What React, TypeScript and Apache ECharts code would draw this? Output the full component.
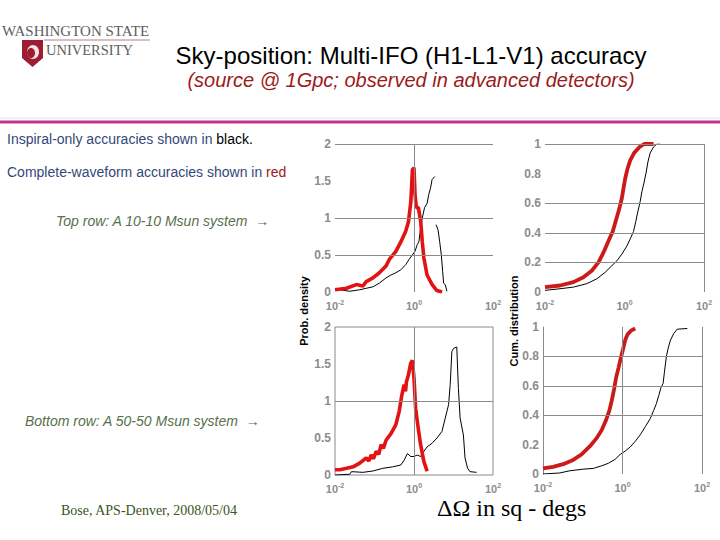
import React, { useEffect, useRef } from "react";
import * as echarts from "echarts";

// ---------- data (x in sq-degs, y values) ----------
// Top row: 10-10 Msun, probability density
const TL_RED_X = [0.01, 0.0195, 0.0347, 0.0505, 0.0617, 0.0912, 0.133, 0.195, 0.237, 0.347, 0.468, 0.617, 0.724, 0.832, 0.912, 1.0, 1.06, 1.15, 1.29, 1.48, 1.62, 1.78, 2.14, 2.88, 3.8, 5.13];
const TL_RED_Y = [0.03, 0.05, 0.1, 0.08, 0.14, 0.19, 0.26, 0.35, 0.44, 0.55, 0.68, 0.82, 0.95, 1.22, 1.65, 1.68, 1.32, 1.14, 1.14, 0.95, 0.68, 0.46, 0.23, 0.1, 0.02, 0.0];
const TL_BLK_X = [0.01, 0.0133, 0.0237, 0.0422, 0.0617, 0.091, 0.133, 0.195, 0.261, 0.348, 0.464, 0.619, 0.75, 0.908, 1.06, 1.21, 1.33, 1.47, 1.62, 1.85, 2.15, 2.37, 2.61, 2.87, 3.35, 3.45, 3.62, 4.06, 4.47, 4.92, 5.31, 5.62, 6.17, 6.81];
const TL_BLK_Y: (number | string)[] = [0.05, 0.03, 0.01, 0.03, 0.05, 0.07, 0.12, 0.19, 0.23, 0.26, 0.3, 0.37, 0.44, 0.5, 0.55, 0.64, 0.68, 0.86, 1.0, 1.14, 1.2, 1.32, 1.4, 1.52, 1.56, "-", 0.91, 0.84, 0.68, 0.5, 0.28, 0.12, 0.1, 0.01];

// Top row: cumulative distribution
const TR_RED_X = [0.01, 0.0239, 0.0518, 0.0924, 0.15, 0.221, 0.296, 0.395, 0.508, 0.617, 0.748, 0.857, 0.944, 1.04, 1.19, 1.39, 1.75, 2.39, 3.13, 5.38];
const TR_RED_Y = [0.033, 0.044, 0.067, 0.1, 0.144, 0.2, 0.267, 0.344, 0.41, 0.49, 0.567, 0.633, 0.7, 0.767, 0.833, 0.889, 0.94, 0.98, 1.0, 1.0];
const TR_BLK_X = [0.01, 0.0239, 0.0518, 0.112, 0.201, 0.326, 0.48, 0.641, 0.857, 1.15, 1.44, 1.69, 1.93, 2.17, 2.48, 2.74, 3.13, 3.52, 3.88, 4.43, 5.38, 6.53, 7.93];
const TR_BLK_Y = [0.011, 0.022, 0.033, 0.056, 0.089, 0.133, 0.178, 0.21, 0.256, 0.311, 0.367, 0.41, 0.478, 0.544, 0.611, 0.678, 0.744, 0.811, 0.878, 0.94, 0.98, 1.0, 1.0];

// Bottom row: 50-50 Msun, probability density
const BL_RED_X = [0.01, 0.0133, 0.0196, 0.0287, 0.0422, 0.0619, 0.0722, 0.0826, 0.0944, 0.11, 0.128, 0.147, 0.168, 0.196, 0.261, 0.348, 0.422, 0.492, 0.562, 0.61, 0.643, 0.722, 0.825, 0.908, 1.0, 1.1, 1.28, 1.47, 1.78, 2.15];
const BL_RED_Y = [0.07, 0.07, 0.09, 0.11, 0.16, 0.23, 0.19, 0.27, 0.22, 0.32, 0.28, 0.41, 0.36, 0.47, 0.56, 0.68, 0.86, 1.08, 1.22, 1.13, 1.26, 1.35, 1.51, 1.55, 1.31, 0.9, 0.63, 0.41, 0.18, 0.05];
const BL_BLK_X = [0.01, 0.0237, 0.0261, 0.0511, 0.0908, 0.162, 0.287, 0.464, 0.562, 0.681, 0.825, 1.0, 1.21, 1.47, 1.78, 2.15, 2.87, 3.83, 5.11, 6.19, 7.5, 8.25, 9.09, 10.0, 12.1, 13.3, 14.7, 17.8, 19.6, 22.8, 26.1, 38.3];
const BL_BLK_Y = [0.0, 0.01, 0.045, 0.036, 0.054, 0.09, 0.11, 0.135, 0.2, 0.29, 0.25, 0.25, 0.27, 0.25, 0.32, 0.38, 0.43, 0.5, 0.59, 0.77, 0.95, 1.22, 1.67, 1.71, 1.73, 1.17, 0.77, 0.54, 0.23, 0.09, 0.045, 0.036];

// Bottom row: cumulative distribution
const BR_RED_X = [0.01, 0.0179, 0.0321, 0.0574, 0.0933, 0.152, 0.224, 0.3, 0.386, 0.469, 0.537, 0.615, 0.691, 0.793, 0.908, 1.02, 1.17, 1.34, 1.63, 2.09];
const BR_RED_Y = [0.038, 0.049, 0.067, 0.096, 0.133, 0.189, 0.244, 0.3, 0.367, 0.433, 0.5, 0.578, 0.656, 0.722, 0.789, 0.844, 0.911, 0.95, 0.975, 0.99];
const BR_BLK_X = [0.01, 0.0264, 0.0473, 0.103, 0.185, 0.3, 0.442, 0.652, 0.873, 1.17, 1.56, 2.09, 2.8, 3.75, 5.01, 6.09, 7.11, 8.15, 9.33, 10.5, 11.3, 12.7, 14.1, 16.1, 19.5, 23.8, 42.6];
const BR_BLK_Y = [0.0, 0.007, 0.022, 0.033, 0.038, 0.056, 0.073, 0.1, 0.133, 0.156, 0.184, 0.222, 0.267, 0.322, 0.378, 0.433, 0.478, 0.533, 0.589, 0.616, 0.689, 0.8, 0.856, 0.911, 0.956, 0.985, 0.99];

// axis ranges / ticks
const X_MIN = 0.01;
const X_MAX = 100;
const PDF_MAX = 2;
const PDF_STEP = 0.5;
const CDF_MAX = 1;
const CDF_STEP = 0.2;

// reference lines per panel
const TL_HLINES = [0.5, 1, 2];
const TL_VLINES = [1];
const TR_HLINES = [0.2, 0.4, 0.6, 1];
const TR_VLINES = [100];
const BL_HLINES = [1];
const BL_VLINES = [1];
const BR_HLINES = [0.4, 0.6, 0.8];
const BR_VLINES = [1, 100];

const zip = (xs: number[], ys: (number | string)[]) => xs.map((x, i) => [x, ys[i]]);

const GRID_COLOR = "#8a8a8a";
const LABEL_COLOR = "#8c8c8c";
const SANS = "'Liberation Sans', Arial, sans-serif";
const SERIF = "'Liberation Serif', 'Times New Roman', serif";

export default function App() {
  const ref = useRef<HTMLDivElement>(null);

  useEffect(() => {
    if (!ref.current) return;
    const chart = echarts.init(ref.current, undefined, { renderer: "svg" });

    const grids = [
      { left: 335, top: 144, width: 158, height: 148 },
      { left: 545, top: 144, width: 159, height: 148 },
      { left: 335, top: 327, width: 158, height: 148, show: true, borderColor: GRID_COLOR, borderWidth: 1 },
      { left: 543, top: 327, width: 159, height: 147 },
    ];

    const xAxes = grids.map((_, i) => ({
      type: "log" as const,
      logBase: 10,
      gridIndex: i,
      min: X_MIN,
      max: X_MAX,
      axisLine: { show: false },
      axisTick: { show: false },
      splitLine: { show: false },
      axisLabel: {
        margin: 7,
        formatter: (v: number) => {
          const e = Math.round(Math.log10(v));
          if (e % 2 !== 0) return "";
          return `{b|10}{s|${e}}`;
        },
        rich: {
          b: { fontSize: 11, fontWeight: "bold", color: LABEL_COLOR, fontFamily: SANS },
          s: { fontSize: 7, fontWeight: "bold", color: LABEL_COLOR, fontFamily: SANS, padding: [0, 0, 7, 0] },
        },
      },
    }));

    const yAxes = grids.map((_, i) => {
      const pdf = i === 0 || i === 2;
      return {
        type: "value" as const,
        gridIndex: i,
        min: 0,
        max: pdf ? PDF_MAX : CDF_MAX,
        interval: pdf ? PDF_STEP : CDF_STEP,
        axisLine: { show: i === 3, lineStyle: { color: GRID_COLOR, width: 1 } },
        axisTick: { show: false },
        splitLine: { show: false },
        axisLabel: {
          margin: 4,
          color: LABEL_COLOR,
          fontSize: 12,
          fontWeight: "bold",
          fontFamily: SANS,
        },
      };
    });

    const refLines = (h: number[], v: number[]) => ({
      silent: true,
      symbol: "none",
      label: { show: false },
      lineStyle: { color: GRID_COLOR, width: 1, type: "solid" },
      data: [...h.map((y) => ({ yAxis: y })), ...v.map((x) => ({ xAxis: x }))],
    });

    const line = (i: number, data: any[], color: string, width: number, lines?: any) => ({
      type: "line",
      xAxisIndex: i,
      yAxisIndex: i,
      data,
      showSymbol: false,
      symbol: "none",
      silent: true,
      connectNulls: false,
      lineStyle: { color, width },
      z: color === "#000000" ? 3 : 4,
      ...(lines ? { markLine: lines } : {}),
    });

    const RED_L = "#e41212";
    const RED_R = "#cc1a1a";

    const option: any = {
      animation: false,
      backgroundColor: "#ffffff",
      grid: grids,
      xAxis: xAxes,
      yAxis: yAxes,
      series: [
        line(0, zip(TL_BLK_X, TL_BLK_Y), "#000000", 1, refLines(TL_HLINES, TL_VLINES)),
        line(0, zip(TL_RED_X, TL_RED_Y), RED_L, 3.6),
        line(1, zip(TR_BLK_X, TR_BLK_Y), "#000000", 1, refLines(TR_HLINES, TR_VLINES)),
        line(1, zip(TR_RED_X, TR_RED_Y), RED_R, 3.8),
        line(2, zip(BL_BLK_X, BL_BLK_Y), "#000000", 1, refLines(BL_HLINES, BL_VLINES)),
        line(2, zip(BL_RED_X, BL_RED_Y), RED_L, 3.6),
        line(3, zip(BR_BLK_X, BR_BLK_Y), "#000000", 1, refLines(BR_HLINES, BR_VLINES)),
        line(3, zip(BR_RED_X, BR_RED_Y), RED_R, 3.8),
      ],
      graphic: [
        // header rules
        { type: "line", shape: { x1: 0, y1: 118, x2: 720, y2: 118 }, style: { stroke: "#e2e2e2", lineWidth: 1 } },
        { type: "line", shape: { x1: 0, y1: 122, x2: 720, y2: 122 }, style: { stroke: "#c2338c", lineWidth: 3 } },
        // logo
        {
          type: "text", x: 2, y: 31,
          style: { text: "WASHINGTON STATE", font: `15px ${SERIF}`, fill: "#5e5e5e", textVerticalAlign: "middle" },
        },
        { type: "line", shape: { x1: 44, y1: 40, x2: 150, y2: 40 }, style: { stroke: "#b08088", lineWidth: 1 } },
        {
          type: "polygon",
          shape: { points: [[22, 40], [43, 40], [43, 58], [32.5, 67], [22, 58]] },
          style: { fill: "#9e1b32" },
        },
        { type: "ellipse", shape: { cx: 33, cy: 52, rx: 6, ry: 7 }, style: { fill: "#f3e2e4" } },
        { type: "ellipse", shape: { cx: 31, cy: 53, rx: 4, ry: 5 }, style: { fill: "#9e1b32" } },
        {
          type: "text", x: 46, y: 50,
          style: { text: "UNIVERSITY", font: `14.5px ${SERIF}`, fill: "#5e5e5e", textVerticalAlign: "middle" },
        },
        // title
        {
          type: "text", x: 411, y: 55,
          style: { text: "Sky-position: Multi-IFO (H1-L1-V1) accuracy", font: `24px ${SANS}`, fill: "#000000", textAlign: "center", textVerticalAlign: "middle" },
        },
        {
          type: "text", x: 411, y: 80,
          style: { text: "(source @ 1Gpc; observed in advanced detectors)", font: `italic 20px ${SANS}`, fill: "#9b1b1b", textAlign: "center", textVerticalAlign: "middle" },
        },
        // left notes
        {
          type: "text", x: 7, y: 138.5,
          style: {
            text: "{a|Inspiral-only accuracies shown in }{k|black.}",
            textVerticalAlign: "middle",
            rich: {
              a: { font: `14px ${SANS}`, fill: "#34477a" },
              k: { font: `14px ${SANS}`, fill: "#000000" },
            },
          },
        },
        {
          type: "text", x: 7, y: 172,
          style: {
            text: "{a|Complete-waveform accuracies shown in }{r|red}",
            textVerticalAlign: "middle",
            rich: {
              a: { font: `14px ${SANS}`, fill: "#34477a" },
              r: { font: `14px ${SANS}`, fill: "#a01818" },
            },
          },
        },
        {
          type: "text", x: 56, y: 221,
          style: { text: "Top row: A 10-10 Msun system  \u2192", font: `italic 14px ${SANS}`, fill: "#58704c", textVerticalAlign: "middle" },
        },
        {
          type: "text", x: 25, y: 421,
          style: { text: "Bottom row: A 50-50 Msun system  \u2192", font: `italic 14px ${SANS}`, fill: "#58704c", textVerticalAlign: "middle" },
        },
        {
          type: "text", x: 61, y: 510,
          style: { text: "Bose, APS-Denver, 2008/05/04", font: `14px ${SERIF}`, fill: "#3a5424", textVerticalAlign: "middle" },
        },
        // axis titles
        {
          type: "text", x: 304, y: 311, rotation: Math.PI / 2,
          style: { text: "Prob. density", font: `bold 11px ${SANS}`, fill: "#000000", textAlign: "center", textVerticalAlign: "middle" },
        },
        {
          type: "text", x: 514, y: 321, rotation: Math.PI / 2,
          style: { text: "Cum. distribution", font: `bold 11px ${SANS}`, fill: "#000000", textAlign: "center", textVerticalAlign: "middle" },
        },
        {
          type: "text", x: 437, y: 508,
          style: { text: "\u0394\u03A9 in sq - degs", font: `24px ${SERIF}`, lineHeight: 20, fill: "#000000", textVerticalAlign: "middle" },
        },
      ],
    };

    chart.setOption(option);
    return () => chart.dispose();
  }, []);

  return (
    <div
      ref={ref}
      style={{ position: "fixed", left: 0, top: 0, width: 720, height: 540, background: "#ffffff" }}
    />
  );
}
